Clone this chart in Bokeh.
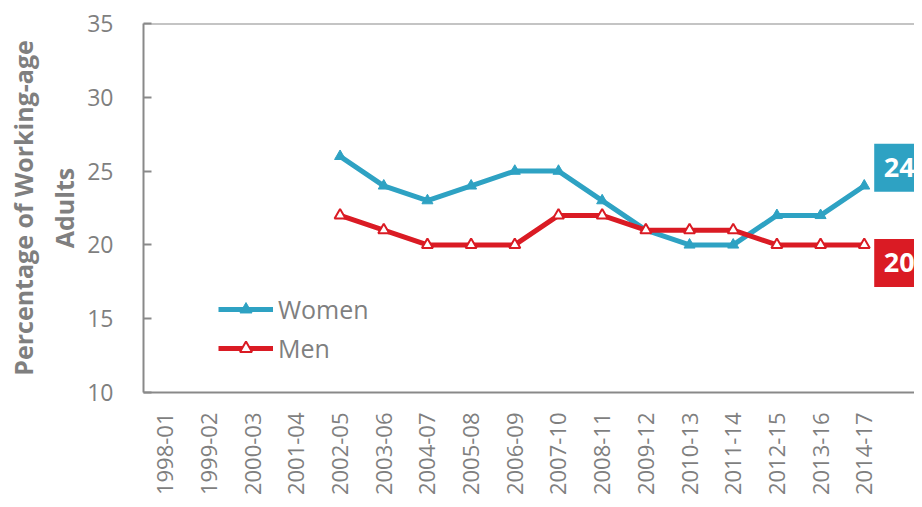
import math
from bokeh.plotting import figure
from bokeh.models import Range1d, FixedTicker, Span, Legend, LegendItem, Title, ColumnDataSource
from bokeh.core.properties import value
from bokeh.embed import file_html
from bokeh.resources import INLINE

# ---- data ----
categories = ["1998-01", "1999-02", "2000-03", "2001-04", "2002-05", "2003-06",
              "2004-07", "2005-08", "2006-09", "2007-10", "2008-11", "2009-12",
              "2010-13", "2011-14", "2012-15", "2013-16", "2014-17"]
data_periods = ["2002-05", "2003-06", "2004-07", "2005-08", "2006-09", "2007-10",
                "2008-11", "2009-12", "2010-13", "2011-14", "2012-15", "2013-16", "2014-17"]
women = [26, 24, 23, 24, 25, 25, 23, 21, 20, 20, 22, 22, 24]
men = [22, 21, 20, 20, 20, 22, 22, 21, 21, 21, 20, 20, 20]
y_ticks = [10, 15, 20, 25, 30, 35]

WOMEN_C = "#2EA2C3"
MEN_C = "#DA1B24"
GRAY = "#7F7F7F"
AXIS_C = "#898989"
FONT = "Open Sans"

xs = [categories.index(c) for c in data_periods]

p = figure(width=914, height=499, output_backend="svg", toolbar_location=None,
           x_range=Range1d(-0.5, 17.15), y_range=Range1d(10, 35),
           min_border_left=143, min_border_right=0, min_border_top=23, min_border_bottom=107)
p.outline_line_color = None
p.xgrid.visible = False
p.ygrid.visible = False
p.background_fill_color = "white"
p.border_fill_color = "white"

# axes
p.xaxis.ticker = FixedTicker(ticks=list(range(len(categories))))
p.xaxis.major_label_overrides = {i: c for i, c in enumerate(categories)}
p.xaxis.major_label_orientation = math.pi / 2
p.xaxis.major_tick_in = 0
p.xaxis.major_tick_out = 0
p.xaxis.minor_tick_line_color = None
p.xaxis.major_label_standoff = 20
p.xaxis.major_label_text_font = FONT
p.xaxis.major_label_text_font_size = "22px"
p.xaxis.major_label_text_color = GRAY
p.xaxis.axis_line_color = AXIS_C
p.xaxis.axis_line_width = 2

p.yaxis.ticker = FixedTicker(ticks=y_ticks)
p.yaxis.major_tick_in = 8
p.yaxis.major_tick_out = 0
p.yaxis.major_tick_line_color = AXIS_C
p.yaxis.major_tick_line_width = 2
p.yaxis.minor_tick_line_color = None
p.yaxis.major_label_standoff = 30
p.yaxis.major_label_text_font = FONT
p.yaxis.major_label_text_font_size = "23px"
p.yaxis.major_label_text_color = GRAY
p.yaxis.axis_line_color = AXIS_C
p.yaxis.axis_line_width = 2

p.add_layout(Span(location=35, dimension="width", line_color=AXIS_C, line_width=2))

# axis titles (two lines)
t2 = Title(text="Adults", align="center", text_font=FONT, text_font_size="25px",
           text_font_style="bold", text_color=GRAY, standoff=8)
t1 = Title(text="Percentage of Working-age", align="center", text_font=FONT,
           text_font_size="25px", text_font_style="bold", text_color=GRAY, standoff=2)
p.add_layout(t2, "left")
p.add_layout(t1, "left")

# series
wl = p.line(xs, women, line_color=WOMEN_C, line_width=5)
ws = p.scatter(xs, women, marker="triangle", size=11, fill_color=WOMEN_C, line_color=WOMEN_C)
ml = p.line(xs, men, line_color=MEN_C, line_width=5)
ms = p.scatter(xs, men, marker="triangle", size=11, fill_color="white", line_color=MEN_C, line_width=2)

legend = Legend(items=[LegendItem(label="Women", renderers=[wl, ws]),
                       LegendItem(label="Men", renderers=[ml, ms])],
                location=(75, 27), orientation="vertical")
legend.glyph_width = 55
legend.glyph_height = 30
legend.label_height = 30
legend.spacing = 5
legend.padding = 0
legend.margin = 0
legend.label_standoff = 5
legend.border_line_color = None
legend.background_fill_alpha = 0
legend.label_text_font = FONT
legend.label_text_font_size = "25px"
legend.label_text_color = GRAY
p.add_layout(legend, "center")

# end-value boxes
last_x = xs[-1]
end_src = ColumnDataSource(dict(
    x=[last_x + 0.8, last_x + 0.8],
    y=[women[-1] + 1.22, men[-1] - 1.22],
    txt=[str(women[-1]), str(men[-1])],
    col=[WOMEN_C, MEN_C],
))
p.rect(x="x", y="y", width=50, height=48, width_units="screen", height_units="screen",
       fill_color="col", line_color=None, source=end_src)
p.text(x="x", y="y", text="txt", source=end_src, text_align="center", text_baseline="middle",
       text_color="white", text_font=value(FONT), text_font_style="bold", text_font_size="27px")

open("out.html", "w").write(file_html(p, INLINE))
